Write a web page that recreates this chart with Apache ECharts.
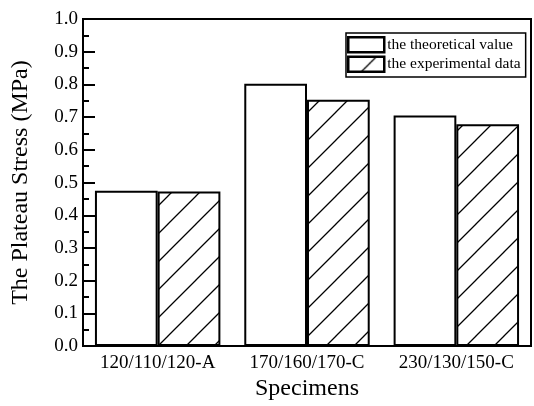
<!DOCTYPE html>
<html>
<head>
<meta charset="utf-8">
<script src="https://cdn.jsdelivr.net/npm/echarts@6/dist/echarts.min.js"></script>
<style>
  html, body { margin: 0; padding: 0; background: #fff; }
  #chart { width: 534px; height: 406px; }
</style>
</head>
<body>
<div id="chart"></div>
<script>
const specimens = ['120/110/120-A', '170/160/170-C', '230/130/150-C'];
const theoretical = [0.475, 0.802, 0.705];
const experimental = [0.473, 0.753, 0.678];
const yTicks = [0, 1, 0.1]; // min, max, step

// diagonal hatch tile for the experimental bars
function hatchPattern() {
  const size = 28;
  const c = document.createElement('canvas');
  c.width = size;
  c.height = size;
  const ctx = c.getContext('2d');
  ctx.strokeStyle = '#000';
  ctx.lineWidth = 1.3;
  ctx.beginPath();
  ctx.moveTo(-2, size + 2);
  ctx.lineTo(size + 2, -2);
  ctx.moveTo(-2, 2);
  ctx.lineTo(2, -2);
  ctx.moveTo(size - 2, size + 2);
  ctx.lineTo(size + 2, size - 2);
  ctx.stroke();
  return c;
}

const font = 'Liberation Serif';
const chart = echarts.init(document.getElementById('chart'));

chart.setOption({
  animation: false,
  backgroundColor: '#fff',
  grid: {
    left: 83, right: 3, top: 19, bottom: 57,
    show: true, borderColor: '#000', borderWidth: 2, backgroundColor: 'transparent'
  },
  legend: {
    orient: 'vertical',
    left: 346, top: 33,
    itemWidth: 36, itemHeight: 15, itemGap: 2,
    padding: [3, 5, 4, 1],
    borderColor: '#000', borderWidth: 1.5,
    itemStyle: { borderWidth: 2.5, borderColor: '#000' },
    textStyle: { fontFamily: font, fontSize: 15.5, color: '#000', padding: [0, 0, 0, -2] },
    data: [
      { name: 'the theoretical value', icon: 'rect' },
      { name: 'the experimental data', icon: 'rect' }
    ]
  },
  xAxis: {
    type: 'category',
    data: specimens,
    name: 'Specimens',
    nameLocation: 'middle',
    nameGap: 30,
    nameTextStyle: { fontFamily: font, fontSize: 24, color: '#000' },
    axisLine: { lineStyle: { color: '#000', width: 2 } },
    axisTick: { show: false },
    axisLabel: { interval: 0, fontFamily: font, fontSize: 19, color: '#000', margin: 7 }
  },
  yAxis: {
    type: 'value',
    min: yTicks[0], max: yTicks[1], interval: yTicks[2],
    name: 'The Plateau Stress (MPa)',
    nameLocation: 'middle',
    nameGap: 50,
    nameTextStyle: { fontFamily: font, fontSize: 24, color: '#000' },
    axisLine: { show: true, lineStyle: { color: '#000', width: 2 } },
    axisTick: { show: true, inside: true, length: 12, lineStyle: { color: '#000', width: 2 } },
    minorTick: { show: true, splitNumber: 2, length: 6, lineStyle: { color: '#000', width: 2 } },
    splitLine: { show: false },
    axisLabel: {
      fontFamily: font, fontSize: 19, color: '#000', margin: 5,
      formatter: v => v.toFixed(1)
    }
  },
  series: [
    {
      name: 'the theoretical value',
      type: 'bar',
      data: theoretical,
      barGap: '0%',
      barCategoryGap: '16%',
      itemStyle: { color: '#fff', borderColor: '#000', borderWidth: 2 }
    },
    {
      name: 'the experimental data',
      type: 'bar',
      data: experimental,
      itemStyle: {
        color: { image: hatchPattern(), repeat: 'repeat' },
        borderColor: '#000', borderWidth: 2
      }
    }
  ]
});
</script>
</body>
</html>
